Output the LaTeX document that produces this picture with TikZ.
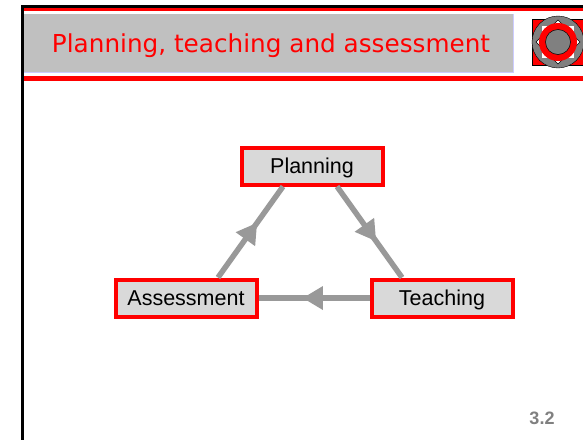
\documentclass[tikz,border=0pt]{standalone}
\usepackage{fontspec}
\setmainfont{Liberation Sans}
\newfontfamily\titlefont{DejaVu Sans}
\usetikzlibrary{arrows.meta,decorations.markings}
\definecolor{boxgray}{HTML}{D9D9D9}
\definecolor{linegray}{HTML}{999999}
\definecolor{bargray}{HTML}{C0C0C0}
\definecolor{logogray}{HTML}{808080}
\tikzset{
    stage/.style={draw=red,line width=4pt,fill=boxgray,minimum width=141pt,minimum height=37pt,inner sep=0pt,text height=17pt,text depth=3pt,font=\fontsize{21.5}{24}\selectfont},
    flow/.style={draw=linegray,line width=5.5pt,postaction={decorate},decoration={markings,mark=at position 0.6 with {\arrow[fill=linegray,line width=0pt]{Triangle[length=20pt,width=24pt]}}}}
}
\begin{document}
\begin{tikzpicture}[x=1pt,y=-1pt]
    \useasboundingbox (0,0) rectangle (583,440);

    \fill[black] (21,5) rectangle (24,440);
    \fill[black] (21,5) rectangle (583,8);
    \fill[red] (24,8) rectangle (583,10.5);
    \fill[red] (24,76) rectangle (583,81);

    \fill[bargray] (24,14) rectangle (513,72);
    \draw[blue!20,line width=1pt] (513,14) -- (513,72) -- (24,72);
    \node[anchor=base,text=red,inner sep=0pt,font=\titlefont\fontsize{24.7}{28}\selectfont] (title) at (271,52) {Planning, teaching and assessment};

    % logo
    \fill[red,draw=black] (532.5,19) rectangle (583.5,65);
    \fill[logogray,draw=black] (558,42) circle (26);
    \fill[white,draw=logogray,line width=1.5pt] (541,25) rectangle (575,59);
    \fill[white,draw=black,line width=.4pt] (558,20) -- (580,42) -- (558,64) -- (536,42) -- cycle;
    \fill[white] (541.7,25.7) rectangle (574.3,58.3);
    \fill[red] (558,42) circle (19);
    \fill[logogray,draw=black,line width=.5pt] (558,42) circle (12.5);

    \node[stage] (planning) at (312,166) {Planning};
    \node[stage] (assessment) at (186,298) {Assessment};
    \node[stage] (teaching) at (442,298) {Teaching};

    \draw[flow] ([xshift=32pt]assessment.north) -- ([xshift=-29pt]planning.south);
    \draw[flow] ([xshift=25pt]planning.south) -- ([xshift=-40pt]teaching.north);
    \draw[flow] (teaching.west) -- (assessment.east);

    \node[font=\bfseries\fontsize{18}{20}\selectfont,text=logogray] (page) at (542,418) {3.2};
\end{tikzpicture}
\end{document}
